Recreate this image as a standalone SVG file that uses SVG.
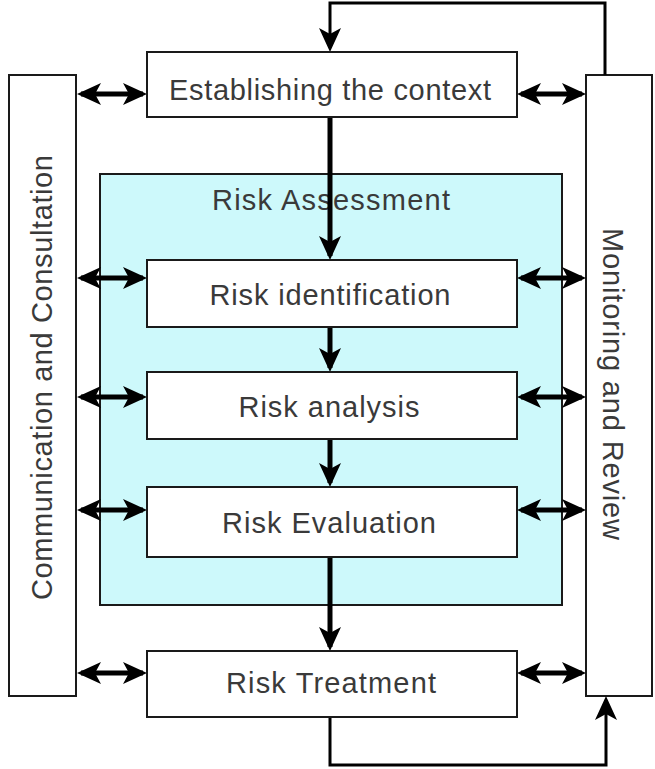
<svg xmlns="http://www.w3.org/2000/svg" width="655" height="769" viewBox="0 0 655 769">
<style>
.box{fill:#fff;stroke:#1a1a1a;stroke-width:2}
.ra{fill:#cdf9fb;stroke:#1a1a1a;stroke-width:2}
.t{font-family:"Liberation Sans",Arial,sans-serif;font-size:29px;fill:#3a3a3a;text-anchor:middle}
.dbl{stroke:#000;stroke-width:5;fill:none;marker-start:url(#ah);marker-end:url(#ah)}
.flow{stroke:#000;stroke-width:5;fill:none;marker-end:url(#ah)}
.loop{stroke:#000;stroke-width:3;fill:none;marker-end:url(#ah)}
</style>
<defs>
<marker id="ah" viewBox="0 0 24 22" refX="20" refY="11" markerWidth="24" markerHeight="22" markerUnits="userSpaceOnUse" orient="auto-start-reverse">
<path d="M0,0 L24,11 L0,22 L6,11 z" fill="#000"/>
</marker>
</defs>
<rect width="655" height="769" fill="#fff"/>
<g id="communication">
<rect class="box" x="9" y="75" width="67" height="621"/>
<text class="t" transform="translate(52,377.5) rotate(-90)" textLength="445">Communication and Consultation</text>
</g>
<g id="monitoring">
<rect class="box" x="586" y="75" width="66" height="621"/>
<text class="t" transform="translate(603,384) rotate(90)" textLength="312">Monitoring and Review</text>
</g>
<g id="risk-assessment">
<rect class="ra" x="100" y="174" width="462" height="431"/>
<text class="t" x="331" y="210" textLength="238">Risk Assessment</text>
</g>
<g id="connectors">
<path class="loop" d="M605,75 V3 H330 V48"/>
<path class="loop" d="M330,717 V765 H606 V700"/>
<line class="flow" x1="330" y1="117" x2="330" y2="256"/>
<line class="flow" x1="330" y1="327" x2="330" y2="368"/>
<line class="flow" x1="330" y1="439" x2="330" y2="483"/>
<line class="flow" x1="330" y1="557" x2="330" y2="647"/>
<line class="dbl" x1="81" y1="94" x2="143" y2="94"/>
<line class="dbl" x1="521" y1="94" x2="582" y2="94"/>
<line class="dbl" x1="81" y1="278" x2="143" y2="278"/>
<line class="dbl" x1="521" y1="278" x2="582" y2="278"/>
<line class="dbl" x1="81" y1="397" x2="143" y2="397"/>
<line class="dbl" x1="521" y1="397" x2="582" y2="397"/>
<line class="dbl" x1="81" y1="510" x2="143" y2="510"/>
<line class="dbl" x1="521" y1="510" x2="582" y2="510"/>
<line class="dbl" x1="81" y1="673" x2="143" y2="673"/>
<line class="dbl" x1="521" y1="673" x2="582" y2="673"/>
</g>
<g id="establishing">
<rect class="box" x="147" y="52" width="370" height="65"/>
<text class="t" x="330" y="100" textLength="322">Establishing the context</text>
</g>
<g id="identification">
<rect class="box" x="147" y="260" width="370" height="67"/>
<text class="t" x="330" y="305" textLength="241">Risk identification</text>
</g>
<g id="analysis">
<rect class="box" x="147" y="372" width="370" height="67"/>
<text class="t" x="329" y="417" textLength="181">Risk analysis</text>
</g>
<g id="evaluation">
<rect class="box" x="147" y="487" width="370" height="70"/>
<text class="t" x="329" y="533" textLength="214">Risk Evaluation</text>
</g>
<g id="treatment">
<rect class="box" x="147" y="651" width="370" height="66"/>
<text class="t" x="331" y="693" textLength="210">Risk Treatment</text>
</g>
</svg>
